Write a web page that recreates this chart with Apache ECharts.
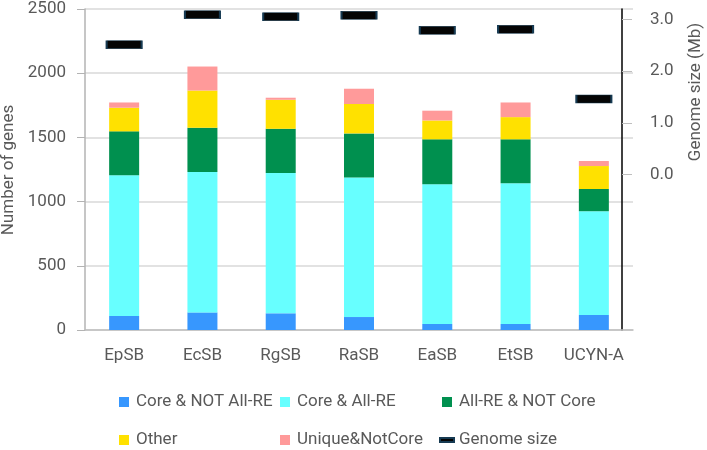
<!DOCTYPE html>
<html>
<head>
    <meta charset="utf-8">
    <title>Genes per genome</title>
    <script src="https://cdn.jsdelivr.net/npm/echarts@6/dist/echarts.min.js"></script>
    <style>
        body { margin: 0; background: #fff; }
        #chart { width: 707px; height: 450px; }
    </style>
</head>
<body>
    <div id="chart"></div>
    <script>
        // data
        var genomes = ['EpSB', 'EcSB', 'RgSB', 'RaSB', 'EaSB', 'EtSB', 'UCYN-A'];
        var coreNotAllRE = [109, 137, 130, 101, 47, 47, 117];
        var coreAllRE = [1096, 1094, 1093, 1086, 1088, 1096, 808];
        var allReNotCore = [342, 344, 344, 344, 350, 342, 173];
        var other = [184, 290, 226, 229, 147, 173, 179];
        var uniqueNotCore = [41, 187, 16, 119, 76, 114, 39];
        var genomeSize = [2.51, 3.09, 3.05, 3.08, 2.79, 2.81, 1.46];
        var geneTicks = [0, 500, 1000, 1500, 2000, 2500];
        var sizeTicks = [0, 1, 2, 3];

        var txt = '#595959';
        var font = 'Roboto';
        var sq = 'path://M0,0h10v10h-10z';
        var dash = 'path://M0,0h14v4h-14z';

        function legendCol(left, names, icons) {
            return {
                orient: 'vertical',
                left: left,
                top: 392,
                padding: 0,
                itemWidth: 14,
                itemHeight: 10,
                itemGap: 18,
                textStyle: { color: txt, fontSize: 17, fontFamily: font, lineHeight: 20 },
                data: names.map(function (n, i) { return { name: n, icon: icons[i] }; })
            };
        }

        function barSeries(name, data, color) {
            return {
                name: name,
                type: 'bar',
                stack: 'genes',
                barWidth: 30,
                itemStyle: { color: color },
                data: data
            };
        }

        // rotated axis titles, reading bottom to top
        function vTitle(text, x, y) {
            return {
                type: 'text',
                x: x,
                y: y,
                rotation: Math.PI / 2,
                style: {
                    text: text,
                    fill: txt,
                    fontSize: 17,
                    fontFamily: font,
                    align: 'center',
                    verticalAlign: 'middle'
                }
            };
        }

        var chart = echarts.init(document.getElementById('chart'));
        chart.setOption({
            animation: false,
            textStyle: { fontFamily: font },
            grid: { left: 85, right: 74, top: 9, bottom: 120, outerBoundsMode: 'none' },
            legend: [
                legendCol(119, ['Core & NOT All-RE', 'Other'], [sq, sq]),
                legendCol(280, ['Core & All-RE', 'Unique&NotCore'], [sq, sq]),
                legendCol(439, ['All-RE & NOT Core', 'Genome size'], [sq, dash])
            ],
            xAxis: {
                type: 'category',
                data: genomes,
                axisTick: { show: false },
                axisLine: { lineStyle: { color: '#bfbfbf', width: 1.5 } },
                axisLabel: { color: txt, fontSize: 17, margin: 17, interval: 0 }
            },
            yAxis: [{
                type: 'value',
                min: geneTicks[0],
                max: geneTicks[geneTicks.length - 1],
                interval: 500,
                axisLine: { show: true, lineStyle: { color: '#b3b3b3', width: 1.5 } },
                axisTick: { show: true, length: 8, lineStyle: { color: '#b3b3b3' } },
                axisLabel: {
                    color: txt, fontSize: 17, margin: 19,
                    formatter: function (v) { return String(v); }
                },
                splitLine: { lineStyle: { color: '#d9d9d9', width: 1.5 } }
            }, {
                type: 'value',
                position: 'right',
                min: -3,
                max: 3.2,
                interval: 1,
                offset: -11,
                axisLine: { show: true, lineStyle: { color: '#000', width: 1.5 } },
                axisTick: { show: true, length: 10, customValues: sizeTicks, lineStyle: { color: '#bfbfbf' } },
                axisLabel: {
                    color: txt, fontSize: 17, margin: 28,
                    customValues: sizeTicks,
                    formatter: function (v) { return v.toFixed(1); }
                },
                splitLine: { show: false }
            }],
            graphic: [
                vTitle('Number of genes', 9, 170),
                vTitle('Genome size (Mb)', 696, 92)
            ],
            series: [
                barSeries('Core & NOT All-RE', coreNotAllRE, '#3797fe'),
                barSeries('Core & All-RE', coreAllRE, '#67ffff'),
                barSeries('All-RE & NOT Core', allReNotCore, '#00904f'),
                barSeries('Other', other, '#ffe100'),
                barSeries('Unique&NotCore', uniqueNotCore, '#ff9a9a'),
                {
                    name: 'Genome size',
                    type: 'scatter',
                    yAxisIndex: 1,
                    symbol: 'rect',
                    symbolSize: [35, 8],
                    itemStyle: { color: '#050505', borderColor: '#163a52', borderWidth: 1, opacity: 1 },
                    data: genomeSize
                }
            ]
        });
    </script>
</body>
</html>
